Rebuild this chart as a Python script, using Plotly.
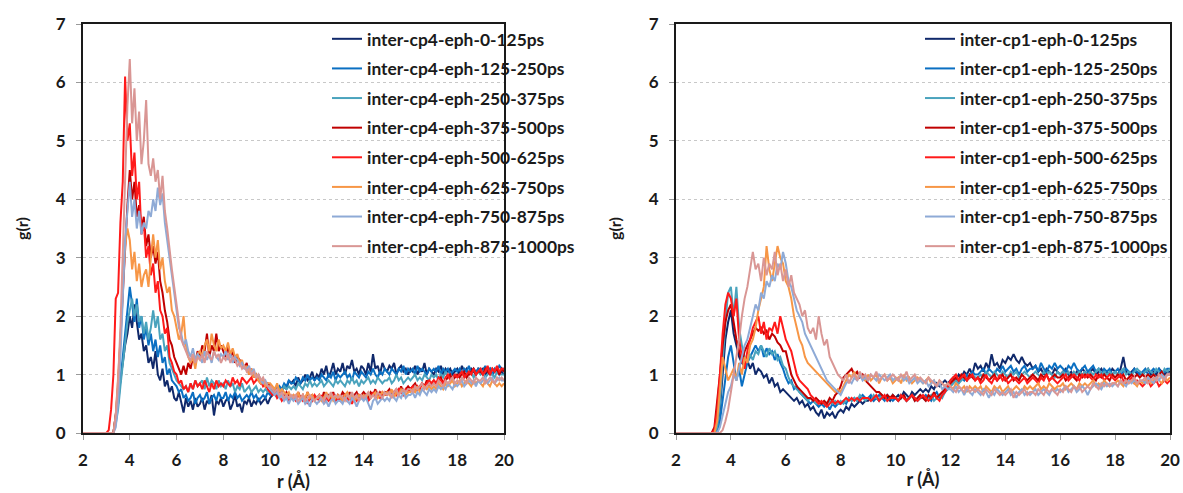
import numpy as np
import plotly.graph_objects as go

# ---------------- data (step 0.1 Å from 2.0 to 20.0) ----------------
R_START = 2.0
R_STEP = 0.1

labels_cp4 = ["inter-cp4-eph-0-125ps", "inter-cp4-eph-125-250ps", "inter-cp4-eph-250-375ps",
              "inter-cp4-eph-375-500ps", "inter-cp4-eph-500-625ps", "inter-cp4-eph-625-750ps",
              "inter-cp4-eph-750-875ps", "inter-cp4-eph-875-1000ps"]
labels_cp1 = ["inter-cp1-eph-0-125ps", "inter-cp1-eph-125-250ps", "inter-cp1-eph-250-375ps",
              "inter-cp1-eph-375-500ps", "inter-cp1-eph-500-625ps", "inter-cp1-eph-625-750ps",
              "inter-cp1-eph-750-875ps", "inter-cp1-eph-875-1000ps"]
colors = ["#10296b", "#0a6fc2", "#4aa3bd", "#c00000", "#ff1a1a", "#f79646", "#8eaad6", "#d99694"]

cp4_0_125 = [
    0, 0, 0, 0, 0, 0, 0, 0, 0, 0,
    0, 0, 0, 0, 0.3, 0.6, 0.9, 1.2, 1.5, 1.7,
    2.0, 1.8, 2.2, 1.9, 1.6, 1.7, 1.4, 1.5, 1.2, 1.3,
    1.1, 1.4, 1.0, 0.9, 1.1, 0.8, 0.9, 0.7, 0.8, 0.6,
    0.55, 0.7, 0.5, 0.35, 0.6, 0.45, 0.55, 0.4, 0.6, 0.45,
    0.5, 0.6, 0.4, 0.55, 0.5, 0.65, 0.3, 0.55, 0.5, 0.6,
    0.45, 0.55, 0.6, 0.4, 0.5, 0.65, 0.45, 0.5, 0.35, 0.55,
    0.5, 0.6, 0.45, 0.55, 0.5, 0.6, 0.5, 0.55, 0.6, 0.5,
    0.6, 0.65, 0.7, 0.6, 0.75, 0.7, 0.8, 0.75, 0.9, 0.85,
    0.9, 0.8, 0.95, 0.85, 0.9, 1.0, 0.9, 0.95, 1.05, 0.9,
    1.0, 0.95, 1.1, 1.0, 1.15, 0.95, 1.05, 1.2, 1.0, 1.1,
    1.05, 1.2, 1.0, 1.15, 1.1, 1.25, 1.05, 1.1, 1.0, 1.15,
    1.1, 1.0, 1.2, 1.05, 1.35, 1.1, 1.15, 1.0, 1.2, 1.1,
    1.05, 1.15, 1.1, 1.2, 1.0, 1.1, 1.15, 1.05, 1.1, 1.0,
    1.1, 1.05, 1.15, 1.0, 1.1, 1.05, 1.2, 1.0, 1.1, 1.05,
    1.0, 1.1, 1.05, 1.15, 1.0, 1.1, 1.05, 1.1, 1.0, 1.05,
    1.1, 1.0, 1.15, 1.05, 1.1, 1.0, 1.1, 1.05, 1.0, 1.1,
    1.05, 1.1, 1.0, 1.05, 1.1, 1.0, 1.05, 1.1, 1.0, 1.05,
    1.0]
cp4_125_250 = [
    0, 0, 0, 0, 0, 0, 0, 0, 0, 0,
    0, 0, 0, 0, 0.2, 0.5, 0.9, 1.3, 1.7, 2.1,
    2.5, 2.2, 1.9, 2.3, 1.8, 2.0, 1.6, 1.8, 1.5, 1.7,
    1.4, 1.6, 1.3, 1.5, 1.2, 1.3, 1.0, 1.1, 0.9, 0.85,
    0.8, 0.7, 0.75, 0.6, 0.65, 0.55, 0.6, 0.7, 0.5, 0.6,
    0.65, 0.55, 0.6, 0.7, 0.5, 0.6, 0.65, 0.55, 0.7, 0.6,
    0.6, 0.7, 0.55, 0.65, 0.6, 0.7, 0.6, 0.65, 0.55, 0.6,
    0.65, 0.6, 0.7, 0.6, 0.65, 0.55, 0.6, 0.65, 0.6, 0.7,
    0.65, 0.7, 0.75, 0.7, 0.8, 0.75, 0.85, 0.8, 0.9, 0.85,
    0.85, 0.95, 0.9, 0.85, 0.95, 0.9, 1.0, 0.9, 0.95, 0.9,
    0.95, 0.9, 1.0, 0.95, 0.9, 1.0, 0.95, 1.05, 0.9, 1.0,
    0.95, 1.0, 1.05, 0.95, 1.0, 0.9, 1.05, 1.0, 0.95, 1.05,
    1.0, 0.95, 1.05, 1.0, 1.1, 1.0, 0.95, 1.05, 1.0, 1.1,
    1.05, 1.0, 1.1, 1.05, 1.0, 1.1, 1.05, 1.15, 1.0, 1.1,
    1.05, 1.1, 1.0, 1.15, 1.05, 1.1, 1.05, 1.0, 1.1, 1.05,
    1.1, 1.05, 1.15, 1.0, 1.1, 1.05, 1.1, 1.0, 1.05, 1.1,
    1.05, 1.1, 1.0, 1.1, 1.05, 1.15, 1.0, 1.1, 1.05, 1.1,
    1.1, 1.05, 1.15, 1.05, 1.1, 1.0, 1.1, 1.05, 1.15, 1.1,
    1.1]
cp4_250_375 = [
    0, 0, 0, 0, 0, 0, 0, 0, 0, 0,
    0, 0, 0, 0, 0.15, 0.4, 0.8, 1.2, 1.6, 1.9,
    2.1, 2.3, 2.0, 2.2, 1.9, 2.0, 1.7, 1.9, 1.6, 1.8,
    2.1, 1.8, 2.0, 1.6, 1.7, 1.4, 1.5, 1.2, 1.1, 1.0,
    0.9, 0.85, 0.8, 0.75, 0.8, 0.7, 0.85, 0.75, 0.9, 0.8,
    0.85, 0.9, 0.75, 0.95, 0.8, 0.9, 0.85, 0.75, 0.9, 0.8,
    0.85, 0.75, 0.9, 0.8, 0.85, 0.7, 0.8, 0.75, 0.85, 0.7,
    0.75, 0.8, 0.7, 0.75, 0.8, 0.7, 0.75, 0.7, 0.75, 0.7,
    0.7, 0.75, 0.7, 0.8, 0.75, 0.7, 0.8, 0.75, 0.8, 0.75,
    0.8, 0.75, 0.85, 0.8, 0.75, 0.85, 0.8, 0.9, 0.8, 0.85,
    0.8, 0.85, 0.9, 0.8, 0.85, 0.9, 0.85, 0.8, 0.9, 0.85,
    0.9, 0.85, 0.8, 0.9, 0.85, 0.95, 0.85, 0.9, 0.8, 0.9,
    0.85, 0.9, 0.95, 0.85, 0.9, 0.85, 0.95, 0.9, 0.85, 0.9,
    0.9, 0.95, 0.85, 0.9, 1.0, 0.9, 0.95, 0.85, 0.9, 0.95,
    0.9, 0.95, 1.0, 0.9, 0.95, 0.9, 1.0, 0.95, 0.9, 1.0,
    0.95, 1.0, 0.9, 1.0, 0.95, 1.05, 0.95, 1.0, 0.9, 1.0,
    1.0, 0.95, 1.05, 1.0, 0.95, 1.0, 1.05, 0.95, 1.0, 1.05,
    1.0, 1.05, 0.95, 1.0, 1.05, 1.0, 0.95, 1.05, 1.0, 1.0,
    1.0]
cp4_375_500 = [
    0, 0, 0, 0, 0, 0, 0, 0, 0, 0,
    0, 0, 0, 0, 0.3, 0.8, 1.6, 2.4, 3.2, 3.9,
    4.5, 4.0, 4.3, 3.7, 3.9, 3.5, 3.7, 3.2, 3.4, 3.0,
    3.2, 2.9, 3.1, 2.6, 2.4, 2.1, 1.9, 1.6, 1.5, 1.3,
    1.2, 1.1, 1.0, 1.15, 1.0, 1.2, 1.1, 1.3, 1.2, 1.4,
    1.3, 1.5, 1.4, 1.7, 1.3, 1.5, 1.4, 1.7, 1.4, 1.5,
    1.4, 1.3, 1.5, 1.3, 1.4, 1.2, 1.3, 1.25, 1.2, 1.1,
    1.2, 1.0, 1.1, 0.95, 1.0, 0.9, 0.85, 0.9, 0.8, 0.85,
    0.8, 0.75, 0.7, 0.75, 0.65, 0.7, 0.6, 0.7, 0.65, 0.6,
    0.65, 0.6, 0.7, 0.6, 0.65, 0.55, 0.7, 0.6, 0.65, 0.6,
    0.6, 0.65, 0.55, 0.7, 0.6, 0.65, 0.6, 0.7, 0.55, 0.65,
    0.6, 0.7, 0.65, 0.6, 0.7, 0.6, 0.65, 0.7, 0.6, 0.65,
    0.7, 0.65, 0.6, 0.7, 0.65, 0.75, 0.6, 0.7, 0.65, 0.7,
    0.7, 0.75, 0.65, 0.7, 0.75, 0.7, 0.8, 0.7, 0.75, 0.8,
    0.75, 0.8, 0.85, 0.75, 0.8, 0.85, 0.8, 0.9, 0.8, 0.85,
    0.9, 0.85, 0.9, 0.95, 0.85, 0.9, 0.95, 1.0, 0.9, 0.95,
    1.0, 0.95, 1.0, 1.05, 0.95, 1.0, 1.05, 1.1, 1.0, 1.05,
    1.05, 1.0, 1.1, 1.05, 1.0, 1.1, 1.05, 1.1, 1.0, 1.1,
    1.05]
cp4_500_625 = [
    0, 0, 0, 0, 0, 0, 0, 0, 0, 0,
    0, 0.05, 0.4, 1.0, 2.3, 2.4, 3.6, 4.3, 6.1, 5.0,
    5.3, 4.4, 4.8, 4.0, 4.3, 3.4, 3.6, 3.0, 3.2, 2.7,
    2.9, 2.4, 2.6, 2.1, 2.0, 1.7, 1.8, 1.3, 1.2, 1.05,
    1.0, 0.85, 0.9, 0.75, 0.8, 0.7, 0.85, 0.75, 0.9, 0.8,
    0.85, 0.75, 0.9, 0.8, 0.7, 0.85, 0.75, 0.9, 0.8, 0.85,
    0.8, 0.9, 0.85, 0.8, 0.95, 0.85, 0.9, 0.8, 0.95, 0.9,
    0.85, 0.9, 0.95, 0.85, 0.9, 1.0, 0.9, 0.8, 0.85, 0.75,
    0.7, 0.65, 0.7, 0.6, 0.65, 0.55, 0.6, 0.65, 0.55, 0.6,
    0.6, 0.55, 0.65, 0.6, 0.55, 0.6, 0.5, 0.6, 0.55, 0.65,
    0.6, 0.55, 0.65, 0.5, 0.6, 0.55, 0.6, 0.65, 0.55, 0.6,
    0.55, 0.6, 0.65, 0.55, 0.6, 0.5, 0.6, 0.55, 0.65, 0.6,
    0.6, 0.65, 0.55, 0.6, 0.7, 0.6, 0.65, 0.6, 0.7, 0.65,
    0.65, 0.7, 0.6, 0.7, 0.65, 0.75, 0.7, 0.65, 0.75, 0.7,
    0.75, 0.8, 0.7, 0.8, 0.75, 0.85, 0.8, 0.85, 0.9, 0.85,
    0.9, 0.85, 0.95, 0.9, 0.85, 0.95, 1.0, 0.9, 0.95, 1.0,
    0.95, 1.0, 1.05, 0.95, 1.0, 1.05, 1.0, 1.1, 1.0, 1.05,
    1.1, 1.0, 1.05, 1.15, 1.0, 1.1, 1.05, 1.15, 1.05, 1.1,
    1.1]
cp4_625_750 = [
    0, 0, 0, 0, 0, 0, 0, 0, 0, 0,
    0, 0, 0, 0, 0.3, 0.9, 1.6, 2.5, 3.2, 3.5,
    3.3, 2.8, 3.1, 2.6, 2.9, 2.5, 2.7, 2.8, 2.5, 3.0,
    3.4, 3.0, 3.3, 2.8, 3.0, 2.6, 2.4, 2.5, 2.1, 2.0,
    1.8, 1.6, 1.7, 2.0, 1.5, 1.3, 1.2, 1.3, 1.1, 1.35,
    1.4, 1.3, 1.5, 1.6, 1.4, 1.7, 1.5, 1.4, 1.6, 1.45,
    1.5, 1.4, 1.55, 1.35, 1.45, 1.3, 1.35, 1.2, 1.25, 1.1,
    1.15, 1.0, 1.1, 0.95, 1.0, 0.9, 0.85, 0.9, 0.8, 0.85,
    0.85, 0.8, 0.75, 0.85, 0.7, 0.75, 0.7, 0.65, 0.7, 0.6,
    0.65, 0.6, 0.7, 0.55, 0.65, 0.6, 0.7, 0.6, 0.65, 0.55,
    0.6, 0.65, 0.55, 0.6, 0.7, 0.6, 0.65, 0.55, 0.6, 0.65,
    0.6, 0.55, 0.65, 0.7, 0.6, 0.65, 0.55, 0.6, 0.65, 0.6,
    0.65, 0.6, 0.7, 0.6, 0.65, 0.7, 0.6, 0.65, 0.7, 0.65,
    0.7, 0.65, 0.75, 0.6, 0.7, 0.65, 0.75, 0.7, 0.65, 0.7,
    0.7, 0.75, 0.7, 0.8, 0.7, 0.75, 0.8, 0.75, 0.8, 0.75,
    0.8, 0.75, 0.85, 0.8, 0.75, 0.85, 0.8, 0.85, 0.9, 0.8,
    0.85, 0.9, 0.8, 0.85, 0.9, 0.85, 0.8, 0.9, 0.85, 0.9,
    0.85, 0.8, 0.9, 0.85, 0.8, 0.9, 0.85, 0.8, 0.85, 0.8,
    0.85]
cp4_750_875 = [
    0, 0, 0, 0, 0, 0, 0, 0, 0, 0,
    0, 0, 0, 0, 0.1, 0.5, 1.3, 2.4, 3.3, 3.8,
    4.3, 3.7, 4.0, 3.5, 3.8, 3.4, 3.6, 3.5, 3.8, 3.7,
    4.0, 3.8, 4.2, 3.9, 4.1, 3.6, 3.3, 3.0, 2.7, 2.4,
    2.1, 1.8, 1.7, 1.5, 1.6, 1.4, 1.3, 1.45, 1.25, 1.35,
    1.3, 1.2, 1.4, 1.25, 1.35, 1.2, 1.4, 1.3, 1.25, 1.35,
    1.3, 1.4, 1.25, 1.35, 1.2, 1.3, 1.25, 1.15, 1.2, 1.1,
    1.1, 1.15, 1.0, 1.1, 0.95, 1.0, 0.9, 0.85, 0.9, 0.8,
    0.75, 0.7, 0.65, 0.7, 0.6, 0.65, 0.55, 0.6, 0.5, 0.6,
    0.55, 0.6, 0.5, 0.55, 0.6, 0.5, 0.55, 0.45, 0.6, 0.55,
    0.5, 0.55, 0.6, 0.5, 0.55, 0.45, 0.55, 0.6, 0.5, 0.55,
    0.55, 0.5, 0.6, 0.55, 0.5, 0.6, 0.55, 0.45, 0.55, 0.6,
    0.55, 0.6, 0.5, 0.4, 0.55, 0.6, 0.5, 0.55, 0.6, 0.55,
    0.6, 0.55, 0.65, 0.6, 0.55, 0.65, 0.6, 0.7, 0.6, 0.65,
    0.65, 0.7, 0.6, 0.7, 0.65, 0.75, 0.7, 0.65, 0.75, 0.7,
    0.75, 0.7, 0.8, 0.75, 0.8, 0.75, 0.85, 0.8, 0.75, 0.85,
    0.8, 0.85, 0.9, 0.8, 0.85, 0.9, 0.85, 0.9, 0.8, 0.9,
    0.85, 0.9, 0.95, 0.85, 0.9, 0.95, 0.85, 0.9, 0.95, 0.9,
    0.9]
cp4_875_1000 = [
    0, 0, 0, 0, 0, 0, 0, 0, 0, 0,
    0, 0, 0, 0, 0.3, 0.9, 1.8, 3.0, 4.5, 5.6,
    6.4, 5.3, 5.9, 5.0, 5.5, 4.6, 5.0, 5.7, 4.6, 4.4,
    4.7, 4.3, 4.5, 4.0, 4.4, 3.8, 3.5, 3.1, 2.8, 2.5,
    2.2, 1.9, 1.6, 1.5, 1.4, 1.3, 1.25, 1.35, 1.2, 1.3,
    1.25, 1.35, 1.2, 1.4, 1.3, 1.25, 1.4, 1.3, 1.35, 1.2,
    1.3, 1.25, 1.35, 1.2, 1.3, 1.25, 1.15, 1.2, 1.1, 1.15,
    1.05, 1.1, 1.0, 1.05, 0.95, 1.0, 0.9, 0.95, 0.85, 0.8,
    0.8, 0.75, 0.7, 0.75, 0.65, 0.7, 0.6, 0.65, 0.6, 0.65,
    0.6, 0.65, 0.55, 0.6, 0.65, 0.55, 0.6, 0.65, 0.6, 0.55,
    0.6, 0.65, 0.6, 0.55, 0.65, 0.6, 0.7, 0.6, 0.65, 0.6,
    0.65, 0.6, 0.55, 0.65, 0.6, 0.7, 0.6, 0.65, 0.55, 0.65,
    0.6, 0.65, 0.7, 0.6, 0.65, 0.6, 0.7, 0.65, 0.6, 0.7,
    0.65, 0.7, 0.6, 0.7, 0.75, 0.65, 0.7, 0.75, 0.7, 0.75,
    0.75, 0.7, 0.8, 0.75, 0.8, 0.85, 0.75, 0.8, 0.85, 0.8,
    0.85, 0.8, 0.9, 0.85, 0.8, 0.9, 0.85, 0.9, 0.95, 0.85,
    0.9, 0.85, 0.95, 0.9, 0.85, 0.95, 0.9, 0.85, 0.95, 0.9,
    0.9, 0.95, 0.85, 0.9, 0.95, 0.9, 0.85, 0.95, 0.9, 0.95,
    0.9]

cp1_0_125 = [
    0, 0, 0, 0, 0, 0, 0, 0, 0, 0,
    0, 0, 0, 0, 0, 0.1, 0.4, 1.0, 1.6, 1.9,
    2.1, 1.7, 1.5, 1.3, 1.2, 1.15, 1.25, 1.1, 1.2, 1.0,
    1.1, 1.05, 0.95, 1.0, 0.85, 0.95, 0.8, 0.85, 0.7, 0.75,
    0.7, 0.65, 0.6, 0.55, 0.6, 0.5, 0.55, 0.45, 0.5, 0.4,
    0.45, 0.35, 0.3, 0.4, 0.25, 0.35, 0.3, 0.35, 0.25, 0.35,
    0.4, 0.35, 0.45, 0.4, 0.5, 0.45, 0.5, 0.55, 0.5, 0.55,
    0.55, 0.6, 0.55, 0.6, 0.55, 0.65, 0.6, 0.6, 0.55, 0.65,
    0.6, 0.65, 0.6, 0.7, 0.65, 0.6, 0.7, 0.65, 0.7, 0.75,
    0.7, 0.75, 0.7, 0.8, 0.75, 0.85, 0.8, 0.85, 0.9, 0.85,
    0.9, 0.95, 0.9, 1.0, 0.95, 1.05, 1.0, 1.1, 1.0, 1.2,
    1.1, 1.15, 1.05, 1.2, 1.1, 1.35, 1.15, 1.2, 1.1, 1.25,
    1.2, 1.3, 1.25, 1.35, 1.25, 1.2, 1.3, 1.2, 1.15, 1.2,
    1.1, 1.15, 1.05, 1.1, 1.0, 1.1, 1.05, 1.0, 1.1, 1.05,
    1.0, 1.05, 1.1, 1.0, 1.05, 0.95, 1.05, 1.0, 1.1, 1.05,
    1.0, 1.05, 1.1, 1.0, 1.05, 1.1, 1.0, 1.05, 1.0, 1.1,
    1.05, 1.0, 1.1, 1.3, 1.05, 1.0, 1.05, 1.1, 1.0, 1.05,
    1.0, 1.05, 1.1, 1.0, 1.05, 1.0, 1.1, 1.05, 1.0, 1.05,
    1.05]
cp1_125_250 = [
    0, 0, 0, 0, 0, 0, 0, 0, 0, 0,
    0, 0, 0, 0, 0, 0, 0.2, 0.6, 1.0, 1.3,
    1.5, 1.2, 0.9, 1.1, 0.8, 1.0, 1.2, 1.3, 1.4, 1.5,
    1.4, 1.5, 1.3, 1.45, 1.35, 1.4, 1.25, 1.35, 1.2, 1.1,
    0.95, 0.85, 0.9, 0.75, 0.8, 0.7, 0.65, 0.6, 0.55, 0.5,
    0.55, 0.5, 0.45, 0.5, 0.45, 0.5, 0.4, 0.5, 0.45, 0.5,
    0.5, 0.55, 0.5, 0.6, 0.55, 0.6, 0.55, 0.6, 0.65, 0.6,
    0.6, 0.65, 0.55, 0.6, 0.65, 0.6, 0.55, 0.65, 0.6, 0.55,
    0.6, 0.55, 0.6, 0.65, 0.55, 0.6, 0.65, 0.6, 0.55, 0.6,
    0.6, 0.65, 0.6, 0.55, 0.65, 0.7, 0.6, 0.65, 0.7, 0.75,
    0.8, 0.85, 0.9, 0.85, 0.95, 0.9, 1.0, 0.95, 1.05, 1.0,
    1.0, 1.05, 1.1, 1.0, 1.1, 1.05, 1.0, 1.1, 1.05, 1.15,
    1.05, 1.1, 1.15, 1.05, 1.1, 1.0, 1.1, 1.15, 1.05, 1.1,
    1.1, 1.15, 1.05, 1.2, 1.1, 1.05, 1.15, 1.1, 1.2, 1.1,
    1.15, 1.1, 1.05, 1.15, 1.1, 1.2, 1.1, 1.05, 1.1, 1.15,
    1.05, 1.1, 1.15, 1.05, 1.1, 1.0, 1.1, 1.05, 1.1, 1.0,
    1.05, 1.1, 1.0, 1.05, 1.1, 1.05, 1.0, 1.1, 1.05, 1.0,
    1.05, 1.1, 1.0, 1.05, 1.1, 1.05, 1.1, 1.0, 1.05, 1.1,
    1.1]
cp1_250_375 = [
    0, 0, 0, 0, 0, 0, 0, 0, 0, 0,
    0, 0, 0, 0, 0, 0.1, 0.5, 1.2, 1.9, 2.4,
    2.5, 2.0, 2.5, 1.8, 1.5, 1.3, 1.2, 1.35, 1.25, 1.4,
    1.35, 1.5, 1.4, 1.3, 1.45, 1.35, 1.4, 1.25, 1.3, 1.15,
    1.1, 0.95, 0.85, 0.8, 0.75, 0.7, 0.65, 0.6, 0.55, 0.6,
    0.55, 0.5, 0.55, 0.5, 0.55, 0.5, 0.55, 0.5, 0.55, 0.5,
    0.55, 0.5, 0.55, 0.6, 0.55, 0.6, 0.55, 0.65, 0.6, 0.55,
    0.6, 0.55, 0.65, 0.6, 0.55, 0.65, 0.6, 0.55, 0.6, 0.65,
    0.6, 0.55, 0.65, 0.6, 0.55, 0.6, 0.65, 0.55, 0.6, 0.65,
    0.6, 0.55, 0.6, 0.65, 0.55, 0.6, 0.65, 0.6, 0.7, 0.75,
    0.8, 0.85, 0.9, 0.85, 0.9, 0.95, 0.9, 0.95, 1.0, 0.95,
    0.95, 1.0, 0.95, 1.05, 1.0, 0.95, 1.05, 1.0, 0.95, 1.05,
    1.0, 0.95, 1.05, 1.0, 1.05, 0.95, 1.0, 1.05, 1.0, 0.95,
    1.0, 1.05, 1.0, 0.95, 1.05, 1.0, 1.05, 1.0, 0.95, 1.05,
    1.0, 1.05, 1.0, 1.05, 0.95, 1.05, 1.0, 1.05, 1.0, 1.05,
    1.0, 1.05, 1.0, 1.05, 1.1, 1.0, 1.05, 1.0, 1.05, 1.0,
    1.05, 1.0, 1.05, 1.1, 1.0, 1.05, 1.0, 1.05, 1.1, 1.05,
    1.0, 1.05, 1.1, 1.05, 1.0, 1.1, 1.05, 1.0, 1.1, 1.05,
    1.1]
cp1_375_500 = [
    0, 0, 0, 0, 0, 0, 0, 0, 0, 0,
    0, 0, 0, 0, 0.1, 0.5, 1.0, 1.5, 1.9, 2.1,
    2.2, 1.9, 1.6, 1.4, 1.2, 1.4, 1.5, 1.6, 1.7, 1.8,
    1.75, 1.8, 1.7, 1.75, 1.6, 1.7, 1.65, 1.55, 1.5, 1.4,
    1.4, 1.2, 1.0, 0.9, 0.8, 0.75, 0.7, 0.65, 0.6, 0.6,
    0.55, 0.6, 0.55, 0.5, 0.55, 0.5, 0.6, 0.55, 0.65, 0.7,
    0.8, 0.95, 1.0, 1.05, 1.1, 1.0, 1.05, 0.95, 1.0, 0.9,
    0.85, 0.8, 0.75, 0.7, 0.7, 0.65, 0.6, 0.65, 0.6, 0.65,
    0.6, 0.55, 0.6, 0.65, 0.55, 0.6, 0.65, 0.55, 0.6, 0.65,
    0.6, 0.55, 0.65, 0.6, 0.7, 0.6, 0.65, 0.7, 0.75, 0.8,
    0.85, 0.9, 0.95, 0.9, 1.0, 0.95, 0.9, 1.0, 0.95, 0.9,
    0.95, 0.9, 1.0, 0.95, 0.9, 0.95, 1.0, 0.9, 0.95, 1.0,
    0.9, 0.95, 1.0, 0.9, 0.95, 0.9, 1.0, 0.95, 0.9, 0.95,
    1.0, 0.95, 0.9, 1.0, 0.95, 1.0, 0.9, 0.95, 1.0, 0.95,
    0.95, 1.0, 0.9, 0.95, 1.0, 0.95, 0.9, 1.0, 0.95, 1.0,
    0.95, 1.0, 0.95, 0.9, 1.0, 0.95, 1.0, 0.95, 0.9, 1.0,
    0.95, 1.0, 0.95, 1.0, 0.9, 0.95, 1.0, 0.95, 1.0, 0.95,
    1.0, 0.95, 1.0, 0.95, 1.0, 0.95, 1.0, 1.05, 0.95, 1.0,
    1.0]
cp1_500_625 = [
    0, 0, 0, 0, 0, 0, 0, 0, 0, 0,
    0, 0, 0, 0, 0.05, 0.4, 1.0, 1.7, 2.2, 2.4,
    2.3, 2.0, 2.3, 1.6, 1.3, 1.1, 1.4, 1.6, 1.8, 1.9,
    2.0, 1.7, 1.9, 1.6, 1.8, 1.75, 1.9, 1.7, 2.0, 1.8,
    1.6, 1.5, 1.4, 1.2, 1.0, 0.9, 0.85, 0.8, 0.75, 0.65,
    0.6, 0.55, 0.5, 0.55, 0.5, 0.45, 0.5, 0.55, 0.5, 0.55,
    0.5, 0.55, 0.6, 0.55, 0.6, 0.55, 0.6, 0.55, 0.6, 0.6,
    0.6, 0.55, 0.6, 0.65, 0.55, 0.6, 0.65, 0.55, 0.6, 0.6,
    0.6, 0.55, 0.65, 0.6, 0.55, 0.6, 0.65, 0.6, 0.55, 0.6,
    0.65, 0.6, 0.55, 0.6, 0.65, 0.6, 0.55, 0.65, 0.7, 0.8,
    0.9, 0.95, 1.0, 0.9, 0.95, 1.0, 0.9, 0.95, 1.0, 0.9,
    0.95, 0.85, 0.9, 1.0, 0.9, 0.85, 0.95, 0.9, 1.0, 0.9,
    0.95, 0.85, 0.9, 0.95, 0.9, 0.85, 0.9, 0.95, 0.85, 0.9,
    0.95, 0.9, 0.85, 0.95, 0.9, 1.0, 0.9, 0.95, 0.9, 0.85,
    0.9, 0.95, 1.0, 0.9, 0.95, 1.0, 0.95, 0.9, 1.0, 0.95,
    1.0, 0.95, 0.9, 1.0, 0.95, 1.0, 0.9, 0.95, 1.0, 0.95,
    0.9, 0.95, 1.0, 0.9, 0.85, 0.9, 0.95, 0.85, 0.9, 0.85,
    0.8, 0.85, 0.9, 0.8, 0.85, 0.9, 0.8, 0.85, 0.9, 0.85,
    0.9]
cp1_625_750 = [
    0, 0, 0, 0, 0, 0, 0, 0, 0, 0,
    0, 0, 0, 0, 0, 0.2, 0.8, 1.3, 1.1, 0.9,
    1.0, 1.1, 0.9, 1.2, 1.0, 1.3, 1.2, 1.5, 1.6, 1.8,
    2.1, 2.3, 2.5, 3.2, 2.8, 2.6, 2.9, 3.2, 3.0, 2.9,
    2.6, 2.5, 2.3, 2.0, 1.8, 1.6, 1.5, 1.3, 1.2, 1.15,
    1.1, 1.05, 1.0, 0.95, 0.9, 0.85, 0.8, 0.75, 0.7, 0.75,
    0.7, 0.8, 0.9, 1.0, 0.95, 1.05, 0.9, 1.0, 0.95, 0.9,
    1.0, 0.9, 0.95, 1.0, 0.85, 0.95, 1.0, 0.9, 0.95, 0.85,
    0.9, 0.95, 0.85, 1.0, 0.9, 0.95, 0.85, 0.9, 0.95, 0.9,
    0.85, 0.9, 0.95, 0.85, 0.9, 0.8, 0.9, 0.85, 0.8, 0.85,
    0.8, 0.75, 0.85, 0.8, 0.75, 0.8, 0.7, 0.8, 0.75, 0.8,
    0.75, 0.8, 0.7, 0.8, 0.75, 0.7, 0.8, 0.75, 0.8, 0.7,
    0.75, 0.8, 0.7, 0.75, 0.8, 0.75, 0.7, 0.8, 0.75, 0.8,
    0.75, 0.8, 0.85, 0.75, 0.8, 0.75, 0.85, 0.8, 0.75, 0.8,
    0.8, 0.85, 0.75, 0.8, 0.85, 0.8, 0.75, 0.85, 0.8, 0.85,
    0.8, 0.85, 0.9, 0.8, 0.85, 0.8, 0.9, 0.85, 0.8, 0.85,
    0.85, 0.9, 0.85, 0.8, 0.9, 0.85, 0.9, 0.85, 0.8, 0.9,
    0.85, 0.9, 0.95, 0.85, 0.9, 0.95, 0.9, 0.85, 0.95, 0.9,
    0.95]
cp1_750_875 = [
    0, 0, 0, 0, 0, 0, 0, 0, 0, 0,
    0, 0, 0, 0, 0, 0, 0.1, 0.3, 0.5, 0.7,
    0.8, 1.0, 0.9, 1.1, 1.3, 1.5, 1.6, 1.8, 2.0, 2.2,
    2.1, 2.4, 2.3, 2.6, 2.5, 2.7, 2.6, 2.9, 2.8, 3.1,
    2.9, 2.6, 2.5, 2.3, 2.1, 2.0, 1.9, 1.7, 1.6, 1.5,
    1.4, 1.3, 1.2, 1.1, 1.0, 0.9, 0.85, 0.8, 0.75, 0.7,
    0.65, 0.75, 0.85, 0.9, 0.85, 0.95, 0.9, 1.0, 0.9, 0.95,
    0.9, 1.0, 0.95, 0.9, 1.0, 0.95, 0.9, 0.95, 1.0, 0.9,
    0.95, 0.9, 1.0, 0.9, 0.95, 0.85, 0.9, 0.95, 0.85, 0.9,
    0.85, 0.9, 0.8, 0.85, 0.9, 0.8, 0.85, 0.75, 0.8, 0.75,
    0.75, 0.7, 0.8, 0.7, 0.75, 0.65, 0.75, 0.7, 0.65, 0.75,
    0.7, 0.65, 0.75, 0.7, 0.6, 0.7, 0.65, 0.75, 0.7, 0.65,
    0.7, 0.75, 0.65, 0.7, 0.6, 0.7, 0.75, 0.65, 0.7, 0.65,
    0.7, 0.75, 0.65, 0.7, 0.75, 0.7, 0.65, 0.75, 0.7, 0.75,
    0.7, 0.75, 0.8, 0.7, 0.75, 0.8, 0.7, 0.75, 0.8, 0.75,
    0.65, 0.75, 0.8, 0.85, 0.8, 0.75, 0.85, 0.8, 0.85, 0.8,
    0.85, 0.8, 0.9, 0.85, 0.8, 0.9, 0.85, 0.9, 0.85, 0.9,
    0.9, 0.85, 0.95, 0.9, 0.85, 0.95, 0.9, 1.0, 0.95, 1.0,
    1.0]
cp1_875_1000 = [
    0, 0, 0, 0, 0, 0, 0, 0, 0, 0,
    0, 0, 0, 0, 0, 0, 0, 0.05, 0.2, 0.4,
    0.7, 1.0, 1.3, 1.6, 2.0, 2.3, 2.5, 2.8, 3.1, 2.8,
    2.9, 2.6, 3.0, 2.7, 2.9, 2.8, 3.1, 2.7, 2.9, 2.6,
    2.8, 2.5, 2.7, 2.4, 2.3, 2.2, 2.0, 2.1, 1.8, 1.7,
    1.8, 1.6, 2.0, 1.7, 1.5, 1.6, 1.3, 1.2, 1.1, 1.0,
    0.95, 0.9, 1.0, 0.85, 0.95, 1.0, 0.9, 1.05, 0.95, 1.0,
    0.9, 1.0, 0.95, 1.05, 0.9, 0.95, 1.0, 0.9, 0.95, 1.0,
    0.95, 0.9, 1.0, 0.95, 1.05, 0.9, 0.95, 1.0, 0.9, 0.95,
    0.9, 0.85, 0.95, 0.9, 0.85, 0.8, 0.9, 0.85, 0.8, 0.85,
    0.8, 0.75, 0.7, 0.8, 0.75, 0.7, 0.8, 0.7, 0.75, 0.7,
    0.75, 0.7, 0.65, 0.75, 0.7, 0.65, 0.75, 0.7, 0.65, 0.7,
    0.65, 0.7, 0.75, 0.6, 0.7, 0.65, 0.7, 0.75, 0.65, 0.7,
    0.7, 0.65, 0.75, 0.7, 0.65, 0.75, 0.7, 0.75, 0.7, 0.65,
    0.75, 0.7, 0.8, 0.75, 0.7, 0.8, 0.75, 0.8, 0.7, 0.75,
    0.8, 0.75, 0.85, 0.8, 0.75, 0.85, 0.8, 0.85, 0.8, 0.85,
    0.85, 0.8, 0.9, 0.85, 0.9, 0.85, 0.9, 0.95, 0.85, 0.9,
    0.9, 0.95, 0.85, 0.9, 0.95, 0.9, 1.0, 0.95, 0.9, 1.0,
    1.0]

series_cp4 = [cp4_0_125, cp4_125_250, cp4_250_375, cp4_375_500,
              cp4_500_625, cp4_625_750, cp4_750_875, cp4_875_1000]
series_cp1 = [cp1_0_125, cp1_125_250, cp1_250_375, cp1_375_500,
              cp1_500_625, cp1_625_750, cp1_750_875, cp1_875_1000]

x_ticks = [2, 4, 6, 8, 10, 12, 14, 16, 18, 20]
y_ticks = [0, 1, 2, 3, 4, 5, 6, 7]

# ---------------- figure ----------------
W, H = 1183, 493
FONT = "Lato"
INK = "#1a1a1a"
fig = go.Figure()


def r_of(vals):
    return np.round(R_START + R_STEP * np.arange(len(vals)), 2)


def bold(s):
    return "<b>%s</b>" % s


for i, (lab, vals) in enumerate(zip(labels_cp4, series_cp4)):
    fig.add_trace(go.Scatter(x=r_of(vals), y=vals, mode="lines", name=bold(lab),
                             line=dict(color=colors[i], width=2),
                             xaxis="x", yaxis="y", legend="legend",
                             legendgroup="a%d" % i, legendrank=i))
for i, (lab, vals) in enumerate(zip(labels_cp1, series_cp1)):
    fig.add_trace(go.Scatter(x=r_of(vals), y=vals, mode="lines", name=bold(lab),
                             line=dict(color=colors[i], width=2),
                             xaxis="x2", yaxis="y2", legend="legend2",
                             legendgroup="b%d" % i, legendrank=i))

ydom = [60 / H, 469 / H]
xdom1 = [83 / W, 504 / W]
xdom2 = [676 / W, 1170 / W]

axis_common = dict(showline=True, linecolor=INK, linewidth=2, mirror=True,
                   ticks="outside", ticklen=5, tickcolor="#9a9a9a", zeroline=False,
                   automargin=False,
                   tickfont=dict(family=FONT, size=17, color=INK))

xaxis_common = dict(axis_common, range=[2, 20], tickmode="array", tickvals=x_ticks,
                    ticktext=[bold(v) for v in x_ticks], showgrid=False,
                    ticklabelstandoff=6,
                    title=dict(text=bold("r (Å)"), font=dict(family=FONT, size=18, color=INK),
                               standoff=4))
yaxis_common = dict(axis_common, range=[0, 7], tickmode="array", tickvals=y_ticks,
                    ticktext=[bold(v) for v in y_ticks], ticklabelstandoff=7,
                    showgrid=True, gridcolor="#c8c8c8", griddash="dot", gridwidth=1,
                    title=dict(text=bold("g(r)"), font=dict(family=FONT, size=16, color=INK),
                               standoff=23))

legend_common = dict(bgcolor="rgba(0,0,0,0)", borderwidth=0, itemwidth=30,
                     tracegroupgap=4, traceorder="grouped",
                     font=dict(family=FONT, size=17.4, color=INK),
                     xanchor="left", yanchor="top", yref="paper", xref="paper")

fig.update_layout(
    width=W, height=H,
    margin=dict(l=0, r=0, t=0, b=0, autoexpand=False),
    paper_bgcolor="white", plot_bgcolor="white",
    showlegend=True,
    xaxis=dict(xaxis_common, domain=xdom1, anchor="y"),
    yaxis=dict(yaxis_common, domain=ydom, anchor="x"),
    xaxis2=dict(xaxis_common, domain=xdom2, anchor="y2"),
    yaxis2=dict(yaxis_common, domain=ydom, anchor="x2"),
    legend=dict(legend_common, x=327 / W, y=1 - 21 / H),
    legend2=dict(legend_common, x=920 / W, y=1 - 21 / H),
)

fig.write_html("out.html")
